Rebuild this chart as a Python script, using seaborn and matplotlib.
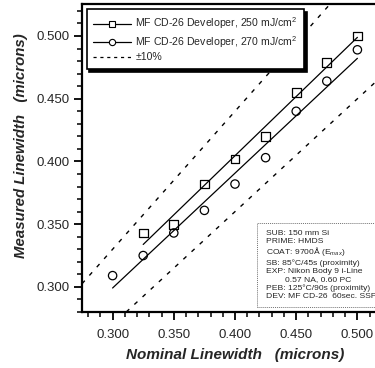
import matplotlib
matplotlib.use("Agg")
import matplotlib.pyplot as plt
from matplotlib.lines import Line2D
from matplotlib.patches import Rectangle
from matplotlib.ticker import MultipleLocator
import seaborn as sns

# nominal vs measured linewidth (microns)
nominal_250 = [0.325, 0.350, 0.375, 0.400, 0.425, 0.450, 0.475, 0.500]
measured_250 = [0.343, 0.350, 0.382, 0.402, 0.420, 0.455, 0.479, 0.500]
nominal_270 = [0.300, 0.325, 0.350, 0.375, 0.400, 0.425, 0.450, 0.475, 0.500]
measured_270 = [0.309, 0.325, 0.343, 0.361, 0.382, 0.403, 0.440, 0.464, 0.489]
tolerance = 0.10

labels = ["MF CD-26 Developer, 250 mJ/cm$^2$",
          "MF CD-26 Developer, 270 mJ/cm$^2$",
          "\u00b110%"]
xticks = [0.300, 0.350, 0.400, 0.450, 0.500]
yticks = [0.300, 0.350, 0.400, 0.450, 0.500]

notes_top = ("SUB: 150 mm Si\n"
             "PRIME: HMDS")
notes_coat = "COAT: 9700\u00c5 (E$_{max}$)"
notes_bottom = ("SB: 85\u00b0C/45s (proximity)\n"
                "EXP: Nikon Body 9 i-Line\n"
                "        0.57 NA, 0.60 PC\n"
                "PEB: 125\u00b0C/90s (proximity)\n"
                "DEV: MF CD-26  60sec. SSP")

sns.set_style("ticks")
plt.rcParams["font.family"] = ["Liberation Sans", "DejaVu Sans"]
plt.rcParams["mathtext.fontset"] = "custom"
plt.rcParams["mathtext.rm"] = "Liberation Sans"
plt.rcParams["mathtext.it"] = "Liberation Sans:italic"

fig = plt.figure(figsize=(3.75, 3.68), dpi=100)
ax = fig.add_axes([82 / 375, 56 / 368, 306 / 375, 308 / 368])

# fitted lines + data points
sns.regplot(x=nominal_250, y=measured_250, scatter=False, ci=None,
            line_kws=dict(color="black", lw=0.9), ax=ax)
sns.regplot(x=nominal_270, y=measured_270, scatter=False, ci=None,
            line_kws=dict(color="black", lw=0.9), ax=ax)
sns.scatterplot(x=nominal_250, y=measured_250, marker="s", s=40,
                facecolors="none", edgecolor="black", linewidth=0.9, ax=ax, zorder=3)
sns.scatterplot(x=nominal_270, y=measured_270, marker="o", s=36,
                facecolors="none", edgecolor="black", linewidth=0.9, ax=ax, zorder=3)

# +/-10% bands
for k in (1 + tolerance, 1 - tolerance):
    ax.axline((0, 0), slope=k, color="black", lw=1.0, ls=(0, (3, 5)))

ax.set_xlim(0.275, 0.525)
ax.set_ylim(0.280, 0.5255)
ax.set_xticks(xticks)
ax.set_yticks(yticks)
ax.set_xticklabels([f"{t:.3f}" for t in xticks], fontsize=9.5)
ax.set_yticklabels([f"{t:.3f}" for t in yticks], fontsize=9.5)
ax.xaxis.set_minor_locator(MultipleLocator(0.01))
ax.yaxis.set_minor_locator(MultipleLocator(0.01))
ax.tick_params(which="major", direction="out", length=6, width=1.3, color="black")
ax.tick_params(which="minor", direction="out", length=3.5, width=1.1, color="black")
ax.tick_params(axis="x", which="major", pad=6.5)
ax.tick_params(axis="y", which="major", pad=3)
for sp in ax.spines.values():
    sp.set_linewidth(1.6)
    sp.set_color("black")

ax.set_xlabel("Nominal Linewidth   (microns)", fontsize=11, fontweight="bold",
              fontstyle="italic", labelpad=5)
ax.set_ylabel("Measured Linewidth   (microns)", fontsize=10.8, fontweight="bold",
              fontstyle="italic")
ax.yaxis.set_label_coords(-0.176, 0.539)

handles = [
    Line2D([], [], color="black", lw=0.9, marker="s", ms=5, mfc="white", mec="black", mew=0.8),
    Line2D([], [], color="black", lw=0.9, marker="o", ms=4.5, mfc="white", mec="black", mew=0.8),
    Line2D([], [], color="black", lw=0.9, ls=(0, (2.5, 3))),
]
leg = ax.legend(handles, labels, loc="upper left", bbox_to_anchor=(-0.002, 1.0),
                fontsize=7.6, handlelength=3.6, handletextpad=0.4, labelspacing=0.25,
                borderpad=0.6, frameon=True, fancybox=False, framealpha=1,
                edgecolor="black",
                shadow={"facecolor": "black", "edgecolor": "black", "alpha": 1})
leg.get_frame().set_linewidth(1.2)

# process conditions box (runs off the right edge like the original)
fig.patches.append(Rectangle((257 / 375, 1 - 307 / 368), 130 / 375, 84 / 368,
                             transform=fig.transFigure, facecolor="white",
                             edgecolor="0.45", lw=0.7, ls=(0, (1, 1)), zorder=5))
fig.text(266 / 375, 1 - 230 / 368, notes_top, fontsize=6.1, va="top", ha="left",
         linespacing=1.22, zorder=6)
fig.text(266 / 375, 1 - 254 / 368, notes_coat, fontsize=6.1, va="baseline", ha="left",
         zorder=6)
fig.text(266 / 375, 1 - 259 / 368, notes_bottom, fontsize=6.1, va="top", ha="left",
         linespacing=1.22, zorder=6)

fig.savefig("out.png", dpi=100)
